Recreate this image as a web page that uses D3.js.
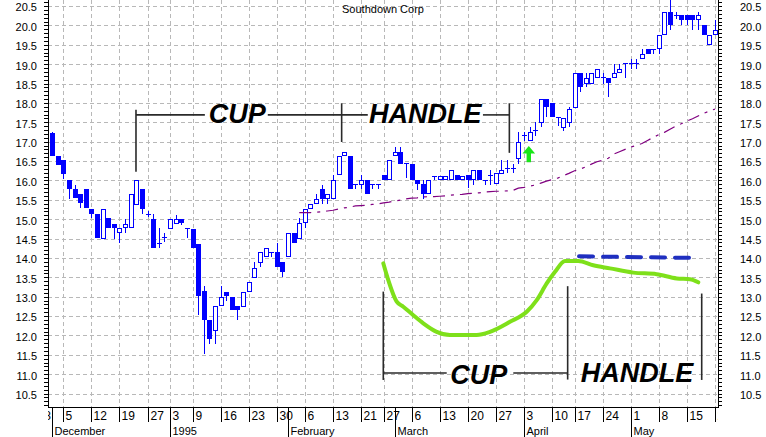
<!DOCTYPE html>
<html><head><meta charset="utf-8">
<script src="https://cdn.jsdelivr.net/npm/d3@7/dist/d3.min.js"></script>
<style>body{margin:0;background:#fff}svg{display:block}</style>
</head><body>
<svg id="chart" width="766" height="437"></svg>
<script>
// ---------- DATA ----------
const title = "Southdown Corp";
const firstIndex = 3; // trading-day index (0 = Mon Nov 28 1994) of the first candle
const opens  = [17.23,16.62,16.52,16.01,15.77,15.65,15.78,15.25,15.13,14.50,15.02,14.88,14.63,14.76,14.76,15.37,15.78,15.13,15.00,14.39,14.53,14.74,14.87,15.00,14.78,14.75,14.37,13.14,12.39,12.11,12.75,13.13,13.00,12.75,12.74,13.13,13.49,13.88,14.01,14.14,14.14,13.90,14.01,14.63,14.50,14.89,15.26,15.38,15.78,15.51,15.51,16.13,16.63,16.63,15.90,15.88,16.00,15.90,15.90,16.14,16.01,16.62,16.73,16.45,16.41,16.00,15.90,15.64,16.12,16.00,16.00,16.00,16.14,16.00,16.14,16.00,16.27,16.00,16.14,15.90,16.16,16.31,16.31,16.54,17.17,17.02,17.29,17.49,18.11,18.00,17.64,17.36,17.49,17.88,18.76,18.50,18.50,18.64,18.66,18.64,18.64,18.77,19.02,19.02,19.02,19.13,19.39,19.39,19.39,19.75,20.35,20.28,20.26,20.26,20.26,20.14,20.01,19.50,19.75];
const highs  = [17.25,16.62,16.52,16.01,15.88,15.65,15.78,15.25,15.13,15.25,15.02,14.88,14.76,15.00,15.64,16.01,15.78,15.20,15.12,14.76,14.64,15.00,15.10,15.00,14.78,14.75,14.37,13.27,12.39,12.75,13.27,13.13,13.00,12.75,13.13,13.39,13.90,14.14,14.26,14.14,14.39,13.90,14.63,14.63,15.02,15.26,15.38,15.64,15.88,15.64,16.14,16.63,16.74,16.63,15.90,16.14,16.00,15.90,15.90,16.14,16.52,16.86,16.86,16.45,16.41,16.00,16.00,16.00,16.12,16.12,16.12,16.27,16.14,16.12,16.14,16.27,16.27,16.00,16.27,16.20,16.52,16.52,16.42,17.26,17.26,17.38,17.50,18.11,18.11,18.00,17.64,17.62,17.90,18.76,18.76,18.76,18.76,18.87,18.76,18.64,19.00,19.00,19.02,19.13,19.13,19.39,19.39,19.39,19.75,20.35,20.70,20.35,20.26,20.26,20.26,20.35,20.01,19.75,20.14];
const lows   = [16.62,16.40,16.03,15.52,15.54,15.28,15.28,15.04,14.52,14.50,14.78,14.50,14.39,14.63,14.76,15.37,15.14,15.05,14.26,14.26,14.40,14.74,14.87,14.85,14.52,14.26,12.52,11.52,11.78,11.78,12.75,12.88,12.66,12.40,12.74,13.13,13.49,13.76,14.01,14.01,13.77,13.51,14.01,14.39,14.50,14.78,15.26,15.38,15.40,15.40,15.51,16.13,16.63,15.77,15.77,15.77,15.66,15.77,15.77,16.00,16.01,16.62,16.41,16.05,16.00,15.76,15.53,15.64,16.00,16.00,16.00,16.00,16.00,16.00,15.80,15.88,16.00,15.88,15.88,15.90,16.16,16.20,16.20,16.41,17.02,17.02,17.15,17.38,17.64,17.64,17.40,17.27,17.38,17.88,18.27,18.40,18.50,18.64,18.50,18.15,18.64,18.77,18.65,18.87,18.87,19.13,19.26,19.26,19.26,19.75,19.88,20.16,20.01,20.01,19.88,19.88,19.76,19.50,19.75];
const closes = [16.62,16.40,16.16,15.77,15.54,15.41,15.28,15.13,14.52,15.25,14.78,14.78,14.76,14.88,15.64,16.01,15.27,15.13,14.26,14.39,14.53,15.00,15.00,14.89,14.78,14.26,13.02,12.40,11.91,12.75,13.00,13.01,12.66,12.66,13.13,13.39,13.75,14.14,14.26,14.14,13.77,13.64,14.63,14.39,14.89,15.26,15.38,15.51,15.53,15.64,16.00,16.63,16.74,15.77,15.90,16.00,15.66,15.90,15.90,16.00,16.52,16.73,16.41,16.45,16.00,15.90,15.66,16.00,16.12,16.12,16.12,16.27,16.00,16.12,16.00,16.27,16.00,16.00,16.14,16.20,16.28,16.31,16.31,17.00,17.17,17.26,17.29,18.11,17.90,17.64,17.64,17.62,17.84,18.76,18.40,18.64,18.76,18.87,18.66,18.52,18.77,18.88,19.02,19.02,19.02,19.26,19.26,19.39,19.75,20.35,20.01,20.28,20.14,20.14,20.14,20.26,19.76,19.75,19.88];

// moving average (purple), one value per trading day starting at maStart
const maStart = 47;
const maValues = [15.17,15.17,15.17,15.18,15.19,15.21,15.23,15.26,15.29,15.31,15.34,15.35,15.36,15.38,15.39,15.42,15.44,15.47,15.49,15.52,15.54,15.55,15.57,15.58,15.58,15.59,15.60,15.62,15.63,15.64,15.66,15.67,15.68,15.70,15.71,15.72,15.72,15.73,15.74,15.80,15.82,15.85,15.88,15.93,15.98,16.02,16.06,16.12,16.18,16.25,16.29,16.35,16.42,16.48,16.52,16.57,16.68,16.74,16.80,16.86,16.90,16.95,17.03,17.11,17.18,17.24,17.32,17.40,17.46,17.53,17.59,17.66,17.73,17.79,17.84];

// axis labels
const weekLabels  = ["28","5","12","19","27","3","9","16","23","30","6","13","21","27","6","13","20","27","3","10","17","24","1","8","15","22"];
const weekIndex   = [0,5,10,15,20,24,28,33,38,43,48,53,58,62,67,72,77,82,87,92,96,101,106,111,116,121];
const monthLabels = ["December","1995","February","March","April","May"];
const monthIndex  = [3,24,45,64,87,106];
const priceTicks  = d3.range(10.5, 20.51, 0.5);

// hand-drawn annotations, in (trading-day index, price)
const cupCurveIdx = [61.96,62.67,64.35,65.52,67.3,69.08,71.47,73.83,78.59,80.95,84.51,87.49,89.27,91.05,92.53,94.3,96.67,99.34,102.31,106.46,110.63,114.19,116.55,118.03];
const cupCurveVal = [13.86,13.51,12.87,12.74,12.52,12.31,12.09,12.01,12.01,12.09,12.35,12.61,12.91,13.34,13.64,13.92,13.92,13.81,13.73,13.62,13.58,13.47,13.45,13.37];
const resistIdx = [96.8,117.3];
const resistVal = [14.04,14.0];
const bracketSegs = [
  [[17.94,17.82],[17.94,16.22]],
  [[17.94,17.69],[30.2,17.69]],
  [[41.4,17.69],[59.2,17.69]],
  [[54.55,17.99],[54.55,16.99]],
  [[79.7,17.69],[84.4,17.69]],
  [[84.4,17.99],[84.4,16.71]],
  [[61.96,13.13],[61.96,10.85]],
  [[61.96,11.03],[73.25,11.03]],
  [[85.1,11.03],[94.84,11.03]],
  [[94.78,13.27],[94.78,10.86]],
  [[118.64,13.08],[118.64,10.85]]
];
const bracketText = ["CUP","HANDLE","CUP","HANDLE"];
const bracketTextIdx = [30.9,59.4,73.9,97.1];
const bracketTextVal = [17.47,17.47,10.74,10.79];
const arrowIdx = 87.86, arrowTip = 16.89, arrowBase = 16.47;

// ---------- CHART ----------
const svg = d3.select("#chart");
const L = 48, R = 718, T = 0, B = 407;
const x = d3.scaleLinear().domain([2.278, 121.54]).range([L, R]);
const y = d3.scaleLinear().domain([10.152, 20.655]).range([B, T]);
const font = "'Liberation Sans', Arial, Helvetica, sans-serif";

svg.append("rect").attr("width",766).attr("height",437).attr("fill","#fff");
const defs = svg.append("defs");
defs.append("clipPath").attr("id","plot").append("rect").attr("x",L).attr("y",T).attr("width",R-L).attr("height",B-T);
defs.append("clipPath").attr("id","xlab").append("rect").attr("x",L).attr("y",B).attr("width",R-L).attr("height",437-B);

// gridlines
const grid = svg.append("g").attr("clip-path","url(#plot)").attr("stroke","#b8b8b8").attr("stroke-dasharray","4,3").attr("shape-rendering","crispEdges");
grid.selectAll(".hg").data(priceTicks).join("line")
  .attr("x1",L).attr("x2",R).attr("y1",d=>Math.round(y(d))+0.5).attr("y2",d=>Math.round(y(d))+0.5);
grid.selectAll(".vg").data(weekIndex).join("line")
  .attr("y1",T).attr("y2",B).attr("x1",d=>Math.round(x(d))+0.5).attr("x2",d=>Math.round(x(d))+0.5);

// candles
const candles = opens.map((o,k)=>({i:firstIndex+k,o,h:highs[k],l:lows[k],c:closes[k]}));
const cg = svg.append("g").attr("clip-path","url(#plot)").attr("shape-rendering","crispEdges");
const blue = "#0000ff";
cg.selectAll(".wick").data(candles).join("line")
  .attr("x1",d=>Math.round(x(d.i))+0.5).attr("x2",d=>Math.round(x(d.i))+0.5)
  .attr("y1",d=>y(d.h)).attr("y2",d=>y(d.l)).attr("stroke",blue).attr("stroke-width",1);
const bodies = candles.filter(d=>Math.abs(d.o-d.c)>=0.03);
cg.selectAll(".down").data(bodies.filter(d=>d.c<d.o)).join("rect")
  .attr("x",d=>Math.round(x(d.i))-2).attr("width",5)
  .attr("y",d=>y(d.o)).attr("height",d=>Math.max(1,y(d.c)-y(d.o))).attr("fill",blue);
cg.selectAll(".up").data(bodies.filter(d=>d.c>=d.o)).join("rect")
  .attr("x",d=>Math.round(x(d.i))-1.5).attr("width",4)
  .attr("y",d=>Math.round(y(d.c))+0.5).attr("height",d=>Math.max(1,Math.round(y(d.o))-Math.round(y(d.c))-1))
  .attr("fill","#fff").attr("stroke",blue).attr("stroke-width",1);
cg.selectAll(".doji").data(candles.filter(d=>Math.abs(d.o-d.c)<0.03)).join("line")
  .attr("x1",d=>Math.round(x(d.i))-2).attr("x2",d=>Math.round(x(d.i))+3)
  .attr("y1",d=>Math.round(y(d.c))+0.5).attr("y2",d=>Math.round(y(d.c))+0.5).attr("stroke",blue);

// moving average
svg.append("path").attr("clip-path","url(#plot)")
  .datum(maValues.map((v,k)=>[maStart+k,v]))
  .attr("d",d3.line().x(d=>x(d[0])).y(d=>y(d[1])))
  .attr("fill","none").attr("stroke","#800080").attr("stroke-width",1.2).attr("stroke-dasharray","12,6,3,6");

// annotations
const ag = svg.append("g");
ag.selectAll(".br").data(bracketSegs).join("line")
  .attr("x1",d=>x(d[0][0])).attr("y1",d=>y(d[0][1])).attr("x2",d=>x(d[1][0])).attr("y2",d=>y(d[1][1]))
  .attr("stroke","#2a2a2a").attr("stroke-width",1.6);
ag.selectAll(".bt").data(bracketText).join("text")
  .attr("x",(d,k)=>x(bracketTextIdx[k])).attr("y",(d,k)=>y(bracketTextVal[k]))
  .attr("font-family",font).attr("font-weight","bold").attr("font-style","italic")
  .attr("font-size",27).attr("fill","#000").text(d=>d);
ag.append("path").datum(cupCurveIdx.map((v,k)=>[v,cupCurveVal[k]]))
  .attr("d",d3.line().curve(d3.curveMonotoneX).x(d=>x(d[0])).y(d=>y(d[1])))
  .attr("fill","none").attr("stroke","#7ee01a").attr("stroke-width",4).attr("stroke-linecap","round").attr("stroke-linejoin","round");
ag.append("path").datum(resistIdx.map((v,k)=>[v,resistVal[k]]))
  .attr("d",d3.line().x(d=>x(d[0])).y(d=>y(d[1])))
  .attr("fill","none").attr("stroke","#1f2fc0").attr("stroke-width",4).attr("stroke-dasharray","14,10").attr("stroke-linecap","round");
{
  const ax = x(arrowIdx), yt = y(arrowTip), yb = y(arrowBase), yh = yt + 7.5;
  ag.append("path")
    .attr("d",`M${ax},${yt} L${ax+6.3},${yh} L${ax+2.2},${yh} L${ax+2.2},${yb} L${ax-2.2},${yb} L${ax-2.2},${yh} L${ax-6.3},${yh} Z`)
    .attr("fill","#19e619");
}

// y axes
const minor = d3.range(10.2, 20.66, 0.1).map(v=>+v.toFixed(1));
function yAxis(gen, xpos, pad) {
  const g = svg.append("g").attr("transform",`translate(${xpos},0)`);
  g.call(gen(y).tickValues(minor).tickSize(4).tickSizeOuter(0).tickFormat(""));
  g.select(".domain").remove();
  g.selectAll(".tick line").attr("stroke","#000").attr("shape-rendering","crispEdges");
  const lab = svg.append("g").attr("transform",`translate(${xpos},0)`);
  lab.call(gen(y).tickValues(priceTicks).tickSize(0).tickPadding(pad).tickFormat(d3.format(".1f")));
  lab.select(".domain").remove();
  lab.selectAll("text").attr("font-family",font).attr("font-size",11).attr("fill","#000").attr("dy","0.45em");
}
yAxis(d3.axisLeft, L, 11);
yAxis(d3.axisRight, R, 22);
svg.append("line").attr("x1",L+0.5).attr("x2",L+0.5).attr("y1",0).attr("y2",B).attr("stroke","#000");
svg.append("line").attr("x1",R+0.5).attr("x2",R+0.5).attr("y1",0).attr("y2",B).attr("stroke","#000");

// x axis (two rows: week-start days, months)
svg.append("line").attr("x1",L).attr("x2",R+1).attr("y1",B+0.5).attr("y2",B+0.5).attr("stroke","#000");
const xg = svg.append("g").attr("clip-path","url(#xlab)").attr("shape-rendering","crispEdges");
xg.selectAll(".ws").data(weekIndex).join("line")
  .attr("x1",d=>Math.round(x(d))+0.5).attr("x2",d=>Math.round(x(d))+0.5).attr("y1",B).attr("y2",422).attr("stroke","#000");
xg.selectAll(".wl").data(weekLabels).join("text")
  .attr("x",(d,k)=>Math.round(x(weekIndex[k]))+2.5).attr("y",420)
  .attr("font-family",font).attr("font-size",12).attr("fill","#000").text(d=>d);
xg.selectAll(".ms").data(monthIndex).join("line")
  .attr("x1",d=>Math.round(x(d))+0.5).attr("x2",d=>Math.round(x(d))+0.5).attr("y1",B).attr("y2",437).attr("stroke","#000");
xg.selectAll(".ml").data(monthLabels).join("text")
  .attr("x",(d,k)=>Math.round(x(monthIndex[k]))+2.5).attr("y",435)
  .attr("font-family",font).attr("font-size",11).attr("fill","#000").text(d=>d);

// title
svg.append("text").attr("x",(L+R)/2).attr("y",13).attr("text-anchor","middle")
  .attr("font-family",font).attr("font-size",11).attr("fill","#000").text(title);
</script>
</body></html>
